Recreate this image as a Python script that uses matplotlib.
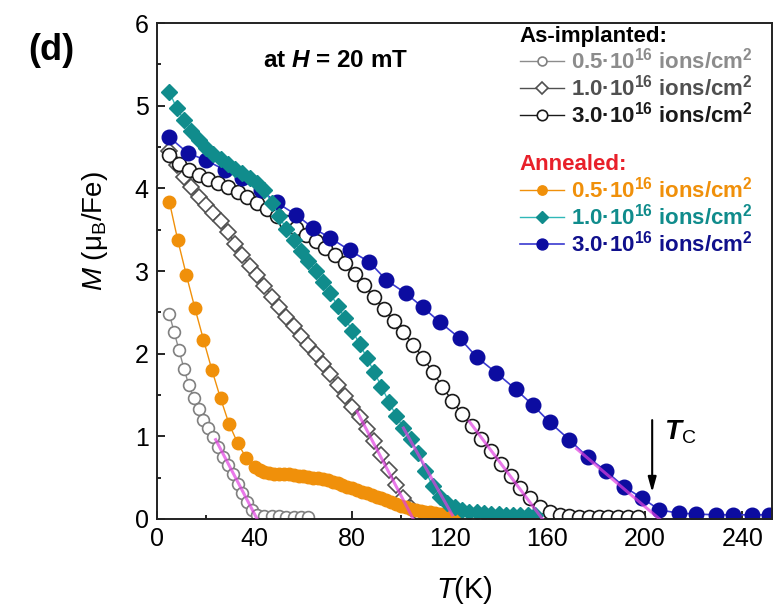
import matplotlib
matplotlib.use('Agg')
import matplotlib.pyplot as plt
from matplotlib.ticker import MultipleLocator

plt.rcParams['font.family'] = ['Liberation Sans', 'DejaVu Sans']
plt.rcParams['mathtext.fontset'] = 'custom'
plt.rcParams['mathtext.rm'] = 'Liberation Sans'
plt.rcParams['mathtext.it'] = 'Liberation Sans:italic'
plt.rcParams['mathtext.bf'] = 'Liberation Sans:bold'
plt.rcParams['mathtext.bfit'] = 'Liberation Sans:bold:italic'

# --- as-implanted samples (open symbols) ---
T_ai05 = [5, 7, 9, 11, 13, 15, 17, 19, 21, 23, 25, 27, 29, 31, 33, 35, 37,
          39, 41, 44, 47, 50, 53, 56, 59, 62]
M_ai05 = [2.48, 2.26, 2.04, 1.82, 1.62, 1.46, 1.33, 1.20, 1.10, 0.99, 0.87,
          0.75, 0.65, 0.54, 0.42, 0.31, 0.21, 0.11, 0.05, 0.04, 0.04, 0.04,
          0.03, 0.03, 0.03, 0.03]

T_ai10 = [5, 8, 11, 14, 17, 20, 23, 26, 29, 32, 35, 38, 41, 44, 47, 50, 53,
          56, 59, 62, 65, 68, 71, 74, 77, 80, 83, 86, 89, 92, 95, 98, 101,
          104, 107, 110, 113, 116]
M_ai10 = [4.45, 4.28, 4.14, 4.02, 3.90, 3.80, 3.70, 3.60, 3.47, 3.33, 3.19,
          3.06, 2.95, 2.82, 2.69, 2.56, 2.44, 2.33, 2.22, 2.11, 2.00, 1.88,
          1.75, 1.62, 1.49, 1.36, 1.23, 1.09, 0.94, 0.77, 0.59, 0.41, 0.25,
          0.13, 0.07, 0.05, 0.04, 0.03]

T_ai30 = [5, 9, 13, 17, 21, 25, 29, 33, 37, 41, 45, 49, 53, 57, 61, 65, 69,
          73, 77, 81, 85, 89, 93, 97, 101, 105, 109, 113, 117, 121, 125, 129,
          133, 137, 141, 145, 149, 153, 157, 161, 165, 169, 173, 177, 181,
          185, 189, 193, 197]
M_ai30 = [4.40, 4.30, 4.22, 4.16, 4.11, 4.06, 4.02, 3.96, 3.89, 3.82, 3.75,
          3.67, 3.59, 3.52, 3.44, 3.36, 3.28, 3.20, 3.10, 2.97, 2.83, 2.68,
          2.54, 2.40, 2.26, 2.11, 1.95, 1.78, 1.60, 1.43, 1.27, 1.12, 0.97,
          0.82, 0.67, 0.52, 0.37, 0.25, 0.15, 0.08, 0.05, 0.04, 0.03, 0.03,
          0.03, 0.03, 0.03, 0.03, 0.03]

# --- annealed samples (filled symbols) ---
T_an05 = [5, 8.5, 12, 15.5, 19, 22.5, 26, 29.5, 33, 36.5, 40, 42, 44, 46,
          48, 50, 52, 54, 56, 58, 60, 62, 64, 66, 68, 70, 72, 74, 76, 78, 80,
          82, 84, 86, 88, 90, 92, 94, 96, 98, 100, 102, 104, 106, 108, 110,
          112, 114, 116, 118, 120, 122]
M_an05 = [3.84, 3.37, 2.95, 2.55, 2.17, 1.80, 1.46, 1.15, 0.92, 0.74, 0.63,
          0.59, 0.57, 0.56, 0.55, 0.55, 0.54, 0.54, 0.53, 0.52, 0.52, 0.51,
          0.50, 0.49, 0.48, 0.47, 0.45, 0.43, 0.41, 0.39, 0.37, 0.35, 0.33,
          0.31, 0.29, 0.27, 0.25, 0.23, 0.20, 0.18, 0.16, 0.14, 0.12, 0.11,
          0.10, 0.09, 0.08, 0.07, 0.06, 0.06, 0.05, 0.05]

T_an10 = [5, 8, 11, 14, 17, 20, 23, 26, 29, 32, 35, 38, 41, 44, 47, 50, 53,
          56, 59, 62, 65, 68, 71, 74, 77, 80, 83, 86, 89, 92, 95, 98, 101,
          104, 107, 110, 113, 116, 119, 122, 125, 128, 131, 134, 137, 140,
          143, 146, 149, 152, 155]
M_an10 = [5.17, 4.97, 4.83, 4.70, 4.58, 4.49, 4.42, 4.36, 4.30, 4.24, 4.19,
          4.13, 4.07, 3.98, 3.82, 3.66, 3.51, 3.37, 3.24, 3.12, 3.00, 2.87,
          2.73, 2.58, 2.43, 2.28, 2.12, 1.95, 1.78, 1.60, 1.42, 1.25, 1.10,
          0.97, 0.80, 0.58, 0.40, 0.27, 0.19, 0.14, 0.11, 0.09, 0.08, 0.07,
          0.06, 0.06, 0.05, 0.05, 0.05, 0.05, 0.05]

T_an30 = [5, 12.5, 20, 28, 35, 42.5, 49, 57, 64, 71, 79, 87, 94, 102, 109,
          116, 124, 131, 139, 147, 154, 161, 169, 176.5, 184, 191.5, 199, 206,
          214, 221, 229, 236, 244, 251]
M_an30 = [4.62, 4.43, 4.34, 4.22, 4.12, 3.98, 3.83, 3.68, 3.52, 3.40, 3.25,
          3.11, 2.89, 2.73, 2.56, 2.38, 2.19, 1.96, 1.77, 1.57, 1.38, 1.17,
          0.96, 0.75, 0.58, 0.39, 0.25, 0.11, 0.07, 0.06, 0.05, 0.05, 0.05,
          0.05]

# linear fits of the steep part (T, M end points) used for T_C
fit_T = [[24, 41], [82, 105], [128, 158], [101, 121], [172, 206]]
fit_M = [[0.96, 0.00], [1.30, 0.00], [1.18, 0.00], [1.10, 0.05], [0.85, 0.00]]
T_C = 203

labels = ['0.5·10$^{\\mathbf{16}}$ ions/cm$^{\\mathbf{2}}$',
          '1.0·10$^{\\mathbf{16}}$ ions/cm$^{\\mathbf{2}}$',
          '3.0·10$^{\\mathbf{16}}$ ions/cm$^{\\mathbf{2}}$']

fig = plt.figure(figsize=(7.74, 6.16), dpi=100)
ax = fig.add_axes([0.203, 0.1575, 0.794, 0.805])

l1, = ax.plot(T_ai05, M_ai05, '-o', color='#8c8c8c', mfc='white', mec='#808080',
              ms=8.5, mew=1.2, lw=1)
l2, = ax.plot(T_ai10, M_ai10, '-D', color='#505050', mfc='white', mec='#505050',
              ms=8, mew=1.2, lw=1)
l3, = ax.plot(T_ai30, M_ai30, '-o', color='#1a1a1a', mfc='white', mec='#1a1a1a',
              ms=10, mew=1.2, lw=1)
l4, = ax.plot(T_an05, M_an05, '-o', color='#f0900a', mec='#f0900a',
              ms=9, lw=1)
l6, = ax.plot(T_an30, M_an30, '-o', color='#3a3ad0', mfc='#0c0ca0', mec='#0c0ca0',
              ms=10.5, lw=1.2)
l5, = ax.plot(T_an10, M_an10, '-D', color='#30b8b8', mfc='#108c8c', mec='#108c8c',
              ms=8, lw=1)

for ft, fm in zip(fit_T, fit_M):
    ax.plot(ft, fm, color='#e040e0', lw=2.2, alpha=0.7, zorder=5)

ax.set_xlim(0, 252)
ax.set_ylim(0, 6)
ax.xaxis.set_major_locator(MultipleLocator(40))
ax.xaxis.set_minor_locator(MultipleLocator(20))
ax.yaxis.set_major_locator(MultipleLocator(1))
ax.yaxis.set_minor_locator(MultipleLocator(0.5))
ax.tick_params(which='both', direction='in', top=False, right=False,
               labelsize=18, width=1.2)
ax.tick_params(which='major', length=6, pad=6)
ax.tick_params(which='minor', length=3)
for s in ax.spines.values():
    s.set_linewidth(1.4)
    s.set_color('#222222')

ax.set_xlabel('$T$(K)', fontsize=21, labelpad=16)
ax.set_ylabel('$M$ (μ$_\\mathrm{B}$/Fe)', fontsize=20)
ax.yaxis.set_label_coords(-0.076, 0.58)

fig.text(0.066, 0.918, '(d)', fontsize=26, fontweight='bold', ha='center',
         va='center')
ax.text(73, 5.55, 'at $\\mathbfit{H}$ = 20 mT', fontsize=17.5, fontweight='bold',
        ha='center', va='center')

ax.annotate('', xy=(T_C, 0.29), xytext=(T_C, 1.23),
            arrowprops=dict(arrowstyle='-|>,head_width=0.25,head_length=0.9',
                            color='black', lw=1.5))
ax.text(T_C + 5, 1.05, '$\\mathbfit{T}_{\\mathrm{C}}$', fontsize=20,
        ha='left', va='center')

leg_kw = dict(loc='upper left', frameon=False, alignment='left',
              prop={'weight': 'bold', 'size': 16}, handlelength=2.0,
              handletextpad=0.3, labelspacing=0.05, borderpad=0.1,
              markerscale=0.75)
leg1 = ax.legend([l1, l2, l3], labels, title='As-implanted:',
                 bbox_to_anchor=(0.568, 1.022),
                 title_fontproperties={'weight': 'bold', 'size': 16}, **leg_kw)
for t, c in zip(leg1.get_texts(), ['#8c8c8c', '#505050', '#1a1a1a']):
    t.set_color(c)
ax.add_artist(leg1)
leg2 = ax.legend([l4, l5, l6], labels, title='Annealed:',
                 bbox_to_anchor=(0.568, 0.762),
                 title_fontproperties={'weight': 'bold', 'size': 16}, **leg_kw)
leg2.get_title().set_color('#e8202a')
for t, c in zip(leg2.get_texts(), ['#f0900a', '#108c8c', '#10108c']):
    t.set_color(c)

fig.savefig('out.png', dpi=100)
